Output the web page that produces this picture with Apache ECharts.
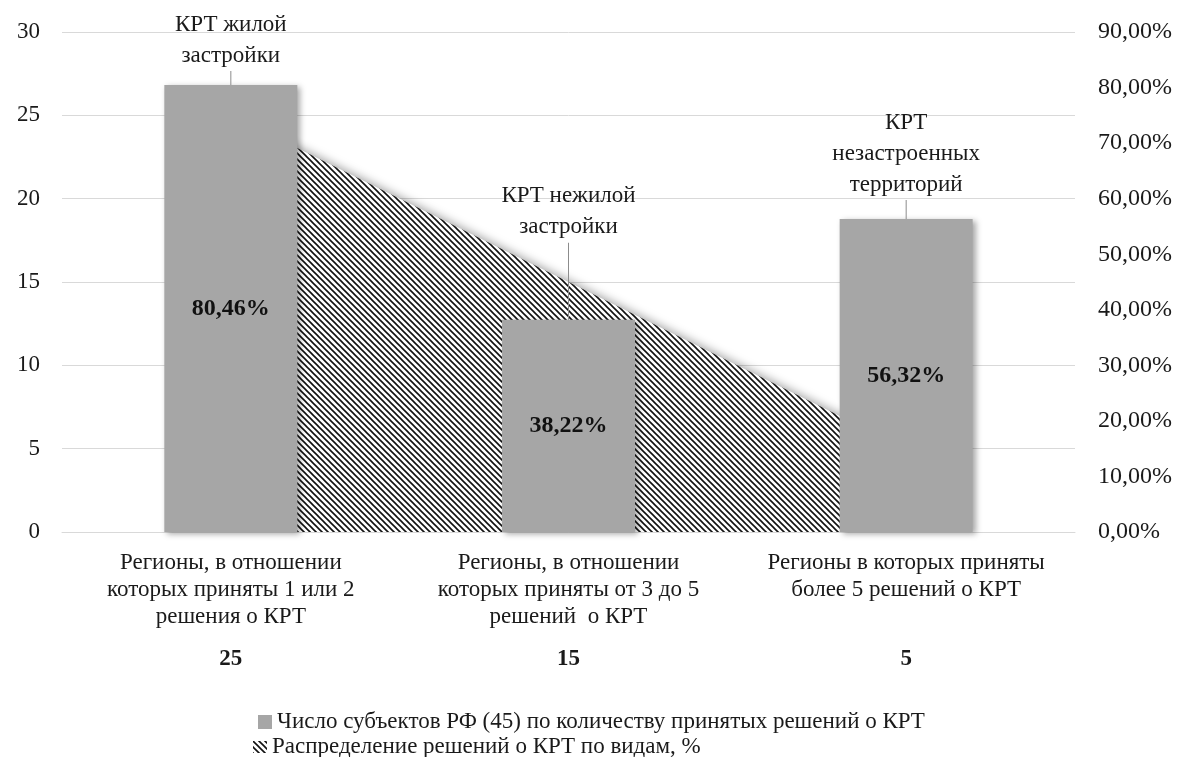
<!DOCTYPE html>
<html>
<head>
<meta charset="utf-8">
<script src="https://cdn.jsdelivr.net/npm/echarts@6/dist/echarts.min.js"></script>
<style>
  html, body { margin: 0; padding: 0; background: #fff; }
  #chart { width: 1185px; height: 757px; }
</style>
</head>
<body>
<div id="chart"></div>
<script>
// подписи категорий (ось X)
var categories = [
  'Регионы, в отношении\nкоторых приняты 1 или 2\nрешения о КРТ',
  'Регионы, в отношении\nкоторых приняты от 3 до 5\nрешений  о КРТ',
  'Регионы в которых приняты\nболее 5 решений о КРТ'
]
// число регионов в каждой группе (левая ось)
var regionCounts = [25, 15, 5]
// доля решений по видам, % (правая ось)
var sharePercent = [80.46, 38.22, 56.32]
// подписи видов КРТ над столбцами
var kindNames = ['КРТ жилой\nзастройки', 'КРТ нежилой\nзастройки', 'КРТ\nнезастроенных\nтерриторий']

var barName = 'Число субъектов РФ (45) по количеству принятых решений о КРТ'
var areaName = 'Распределение решений о КРТ по видам, %'
var font = "'Liberation Serif', 'Times New Roman', serif"

// штриховка для области
function makeHatch () {
  var cv = document.createElement('canvas')
  cv.width = 6
  cv.height = 6
  var c = cv.getContext('2d')
  c.fillStyle = '#fff'
  c.fillRect(0, 0, 6, 6)
  c.strokeStyle = '#111'
  c.lineWidth = 1.6
  c.beginPath()
  c.moveTo(-1, -1); c.lineTo(7, 7)
  c.moveTo(-1, 5); c.lineTo(1, 7)
  c.moveTo(5, -1); c.lineTo(7, 1)
  c.stroke()
  return { image: cv, repeat: 'repeat' }
}
var hatch = makeHatch()

var legendText = { fontFamily: font, fontSize: 23, lineHeight: 24, color: '#1a1a1a' }

var myChart = echarts.init(document.getElementById('chart'))
myChart.setOption({
  animation: false,
  textStyle: { fontFamily: font },
  grid: { left: 62, right: 110, top: 32, bottom: 225 },
  legend: [
    {
      left: 253,
      top: 705,
      itemWidth: 14,
      itemHeight: 14,
      textStyle: legendText,
      data: [{ name: barName, icon: 'rect' }]
    },
    {
      left: 248,
      top: 730,
      itemWidth: 14,
      itemHeight: 12,
      textStyle: legendText,
      data: [{ name: areaName, icon: 'rect', itemStyle: { color: hatch } }]
    }
  ],
  xAxis: {
    type: 'category',
    data: categories,
    axisLine: { show: true, lineStyle: { color: '#d9d9d9' } },
    axisTick: { show: false },
    axisLabel: {
      interval: 0,
      margin: 17,
      fontFamily: font,
      fontSize: 23,
      lineHeight: 27,
      color: '#1a1a1a',
      formatter: function (value, idx) {
        var lines = value.split('\n')
        while (lines.length < 3) lines.push(' ')
        return lines.join('\n') + '\n{b|' + regionCounts[idx] + '}'
      },
      rich: {
        b: { fontFamily: font, fontSize: 23, fontWeight: 'bold', lineHeight: 59, color: '#1a1a1a' }
      }
    }
  },
  yAxis: [
    {
      type: 'value',
      min: 0,
      max: 30,
      interval: 5,
      axisLine: { show: false },
      axisTick: { show: false },
      splitLine: { lineStyle: { color: '#d9d9d9' } },
      axisLabel: { margin: 22, fontFamily: font, fontSize: 23, color: '#1a1a1a' }
    },
    {
      type: 'value',
      min: 0,
      max: 90,
      interval: 10,
      axisLine: { show: false },
      axisTick: { show: false },
      splitLine: { show: false },
      axisLabel: {
        margin: 23,
        fontFamily: font,
        fontSize: 24,
        color: '#1a1a1a',
        formatter: function (v) { return v.toFixed(2).replace('.', ',') + '%' }
      }
    }
  ],
  series: [
    {
      name: areaName,
      type: 'line',
      yAxisIndex: 0,
      z: 1,
      data: regionCounts,
      showSymbol: false,
      lineStyle: { width: 0 },
      itemStyle: { color: hatch },
      areaStyle: {
        color: hatch,
        opacity: 1,
        shadowBlur: 10,
        shadowOffsetY: -2,
        shadowColor: 'rgba(0,0,0,0.35)'
      }
    },
    {
      name: barName,
      type: 'bar',
      yAxisIndex: 1,
      z: 3,
      data: sharePercent,
      barWidth: 133,
      barGap: '-100%',
      itemStyle: {
        color: '#a6a6a6',
        shadowBlur: 6,
        shadowOffsetX: 3,
        shadowOffsetY: 2,
        shadowColor: 'rgba(0,0,0,0.35)'
      },
      label: {
        show: true,
        position: 'inside',
        fontFamily: font,
        fontSize: 24,
        fontWeight: 'bold',
        color: '#111',
        formatter: function (p) { return p.value.toFixed(2).replace('.', ',') + '%' }
      }
    },
    {
      // подписи видов КРТ с выносной линией
      name: 'kinds',
      type: 'bar',
      yAxisIndex: 1,
      z: 4,
      data: sharePercent,
      barWidth: 133,
      barGap: '-100%',
      itemStyle: { color: 'rgba(0,0,0,0)' },
      label: {
        show: true,
        position: 'top',
        distance: 0,
        fontFamily: font,
        fontSize: 23,
        lineHeight: 31,
        color: '#1a1a1a',
        formatter: function (p) {
          return kindNames[p.dataIndex] + '\n{l' + p.dataIndex + '|}'
        },
        rich: {
          l0: { width: 1, height: 14, lineHeight: 14, backgroundColor: '#8c8c8c' },
          l1: { width: 1, height: 77, lineHeight: 77, backgroundColor: '#8c8c8c' },
          l2: { width: 1, height: 19, lineHeight: 19, backgroundColor: '#8c8c8c' }
        }
      }
    }
  ]
})
</script>
</body>
</html>
